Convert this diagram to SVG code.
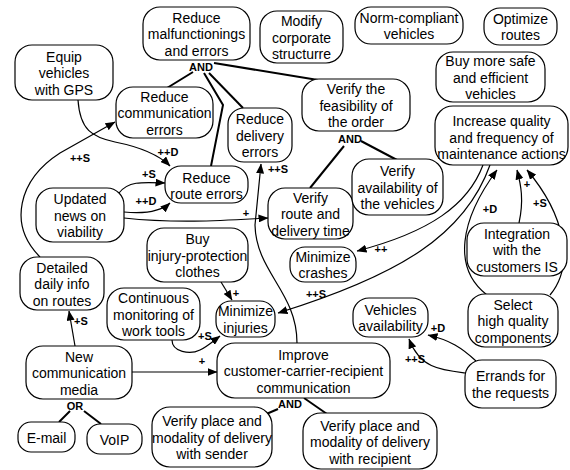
<svg xmlns="http://www.w3.org/2000/svg" width="570" height="470" viewBox="0 0 570 470">
<style>
.node rect{fill:#fff;stroke:#000;stroke-width:1.2}
.node text,.lbl{font-family:"Liberation Sans",Arial,sans-serif;text-anchor:middle;fill:#000}
.node text{font-size:14px}
.lbl{font-size:11px;font-weight:bold}
.edge{fill:none;stroke:#000;stroke-width:1.2}
.arr{marker-end:url(#ah)}
.dec{fill:none;stroke:#000;stroke-width:2}
</style>
<defs>
<marker id="ah" markerUnits="userSpaceOnUse" markerWidth="10" markerHeight="8" refX="9.5" refY="4" orient="auto">
<path d="M0,0 L10,4 L0,8 z" fill="#000"/>
</marker>
</defs>
<rect width="570" height="470" fill="#fff"/>

<g id="connectors">
<path class="dec" d="M193,72 L167,88"/>
<path class="dec" d="M204,73 L223,105 L211,166"/>
<path class="dec" d="M209,73 L243,108"/>
<path class="dec" d="M214,63 L318,80"/>
<path class="dec" d="M344,146 L310,188"/>
<path class="dec" d="M361,141 L397,160"/>
<path class="dec" d="M70,411 L59,422"/>
<path class="dec" d="M84,411 L101,424"/>
<path class="dec" d="M278,409 L264,415"/>
<path class="dec" d="M304,398 L327,414"/>

<path class="edge arr" d="M78,100 C80,130 92,137 115,142 C140,147 158,154 170,166"/>
<path class="edge arr" d="M40,257 C8,225 18,180 60,153 L115,122"/>
<path class="edge arr" d="M119,193 C128,181 142,182 165,183"/>
<path class="edge arr" d="M124,212 C145,214 160,212 170,203"/>
<path class="edge arr" d="M124,218 C180,224 230,220 268,218"/>
<path class="edge arr" d="M297,343 C297,292 256,272 255,225 L261,164"/>
<path class="edge arr" d="M483,165 C468,205 430,232 357,251"/>
<path class="edge arr" d="M490,165 C465,235 400,275 278,313"/>
<path class="edge arr" d="M519,223 C524,200 521,185 517,170"/>
<path class="edge arr" d="M550,295 C575,265 565,215 527,170"/>
<path class="edge arr" d="M487,295 C452,268 460,220 497,170"/>
<path class="edge arr" d="M221,282 L232,300"/>
<path class="edge arr" d="M172,340 C172,352 190,355 200,350 C208,346 212,342 220,336"/>
<path class="edge arr" d="M75,346 L69,311"/>
<path class="edge arr" d="M132,372 L217,372"/>
<path class="edge arr" d="M476,361 C462,348 450,340 428,335"/>
<path class="edge arr" d="M465,373 C440,370 420,368 409,339"/>

<text class="lbl" x="201" y="71">AND</text>
<text class="lbl" x="350" y="143">AND</text>
<text class="lbl" x="75" y="410">OR</text>
<text class="lbl" x="290" y="408">AND</text>
<text class="lbl" x="168" y="156">++D</text>
<text class="lbl" x="80" y="162">++S</text>
<text class="lbl" x="149" y="178">+S</text>
<text class="lbl" x="146" y="205">++D</text>
<text class="lbl" x="246" y="217">+</text>
<text class="lbl" x="278" y="173">++S</text>
<text class="lbl" x="381" y="253">++</text>
<text class="lbl" x="316" y="298">++S</text>
<text class="lbl" x="236" y="297">+</text>
<text class="lbl" x="205" y="340">+S</text>
<text class="lbl" x="81" y="325">+S</text>
<text class="lbl" x="202" y="365">+</text>
<text class="lbl" x="438" y="332">+D</text>
<text class="lbl" x="415" y="363">++S</text>
<text class="lbl" x="527" y="188">+</text>
<text class="lbl" x="540" y="207">+S</text>
<text class="lbl" x="490" y="213">+D</text>
</g>

<g id="n1" class="node"><rect x="143" y="7" width="107" height="53" rx="17"/><text x="196.5" y="22.5">Reduce</text><text x="196.5" y="39">malfunctionings</text><text x="196.5" y="55.5">and errors</text></g>
<g id="n2" class="node"><rect x="260" y="11" width="83" height="52" rx="17"/><text x="301.5" y="26">Modify</text><text x="301.5" y="42.5">corporate</text><text x="301.5" y="59">structurre</text></g>
<g id="n3" class="node"><rect x="355" y="7" width="108" height="37" rx="16"/><text x="409" y="22.75">Norm-compliant</text><text x="409" y="39.25">vehicles</text></g>
<g id="n4" class="node"><rect x="484" y="8" width="73" height="37" rx="16"/><text x="520.5" y="23.75">Optimize</text><text x="520.5" y="40.25">routes</text></g>
<g id="n5" class="node"><rect x="436" y="52" width="109" height="50" rx="17"/><text x="490.5" y="66">Buy more safe</text><text x="490.5" y="82.5">and efficient</text><text x="490.5" y="99">vehicles</text></g>
<g id="n6" class="node"><rect x="302" y="79" width="108" height="52" rx="17"/><text x="356" y="94">Verify the</text><text x="356" y="110.5">feasibility of</text><text x="356" y="127">the order</text></g>
<g id="n7" class="node"><rect x="435" y="106" width="133" height="59" rx="18"/><text x="501.5" y="126">Increase quality</text><text x="501.5" y="142.5">and frequency of</text><text x="501.5" y="159">maintenance actions</text></g>
<g id="n8" class="node"><rect x="15" y="45" width="98" height="55" rx="17"/><text x="64" y="61.5">Equip</text><text x="64" y="78">vehicles</text><text x="64" y="94.5">with GPS</text></g>
<g id="n9" class="node"><rect x="116" y="87" width="97" height="51" rx="17"/><text x="164.5" y="101.5">Reduce</text><text x="164.5" y="118">communication</text><text x="164.5" y="134.5">errors</text></g>
<g id="n10" class="node"><rect x="228" y="108" width="64" height="54" rx="16"/><text x="260" y="124">Reduce</text><text x="260" y="140.5">delivery</text><text x="260" y="157">errors</text></g>
<g id="n11" class="node"><rect x="165" y="166" width="83" height="37" rx="16"/><text x="206.5" y="182.5">Reduce</text><text x="206.5" y="199">route errors</text></g>
<g id="n12" class="node"><rect x="36" y="188" width="88" height="54" rx="17"/><text x="80" y="204">Updated</text><text x="80" y="220.5">news on</text><text x="80" y="237">viability</text></g>
<g id="n13" class="node"><rect x="268" y="188" width="85" height="51" rx="17"/><text x="310.5" y="202.5">Verify</text><text x="310.5" y="219">route and</text><text x="310.5" y="235.5">delivery time</text></g>
<g id="n14" class="node"><rect x="352" y="159" width="91" height="56" rx="17"/><text x="397.5" y="176">Verify</text><text x="397.5" y="192.5">availability of</text><text x="397.5" y="209">the vehicles</text></g>
<g id="n15" class="node"><rect x="290" y="247" width="66" height="35" rx="15"/><text x="323" y="261.75">Minimize</text><text x="323" y="278.25">crashes</text></g>
<g id="n16" class="node"><rect x="467" y="223" width="100" height="53" rx="17"/><text x="517" y="238.5">Integration</text><text x="517" y="255">with the</text><text x="517" y="271.5">customers IS</text></g>
<g id="n17" class="node"><rect x="468" y="294" width="90" height="53" rx="17"/><text x="513" y="309.5">Select</text><text x="513" y="326">high quality</text><text x="513" y="342.5">components</text></g>
<g id="n18" class="node"><rect x="147" y="228" width="101" height="54" rx="17"/><text x="197.5" y="244">Buy</text><text x="197.5" y="260.5">injury-protection</text><text x="197.5" y="277">clothes</text></g>
<g id="n19" class="node"><rect x="20" y="257" width="84" height="53" rx="17"/><text x="62" y="272.5">Detailed</text><text x="62" y="289">daily info</text><text x="62" y="305.5">on routes</text></g>
<g id="n20" class="node"><rect x="107" y="288" width="93" height="52" rx="17"/><text x="153.5" y="303">Continuous</text><text x="153.5" y="319.5">monitoring of</text><text x="153.5" y="336">work tools</text></g>
<g id="n21" class="node"><rect x="216" y="301" width="59" height="36" rx="15"/><text x="245.5" y="316.25">Minimize</text><text x="245.5" y="332.75">injuries</text></g>
<g id="n22" class="node"><rect x="26" y="346" width="106" height="53" rx="17"/><text x="79" y="361.5">New</text><text x="79" y="378">communication</text><text x="79" y="394.5">media</text></g>
<g id="n23" class="node"><rect x="217" y="343" width="173" height="55" rx="18"/><text x="303.5" y="359.5">Improve</text><text x="303.5" y="376">customer-carrier-recipient</text><text x="303.5" y="392.5">communication</text></g>
<g id="n24" class="node"><rect x="353" y="298" width="75" height="39" rx="16"/><text x="390.5" y="314.75">Vehicles</text><text x="390.5" y="331.25">availability</text></g>
<g id="n25" class="node"><rect x="465" y="360" width="91" height="48" rx="17"/><text x="510.5" y="381.25">Errands for</text><text x="510.5" y="397.75">the requests</text></g>
<g id="n26" class="node"><rect x="18" y="422" width="57" height="30" rx="13"/><text x="46.5" y="442.5">E-mail</text></g>
<g id="n27" class="node"><rect x="87" y="424" width="55" height="30" rx="13"/><text x="114.5" y="444.5">VoIP</text></g>
<g id="n28" class="node"><rect x="152" y="407" width="120" height="60" rx="18"/><text x="212" y="426">Verify place and</text><text x="212" y="442.5">modality of delivery</text><text x="212" y="459">with sender</text></g>
<g id="n29" class="node"><rect x="303" y="413" width="134" height="56" rx="18"/><text x="370" y="430.5">Verify place and</text><text x="370" y="447">modality of delivery</text><text x="370" y="463.5">with recipient</text></g>
</svg>
